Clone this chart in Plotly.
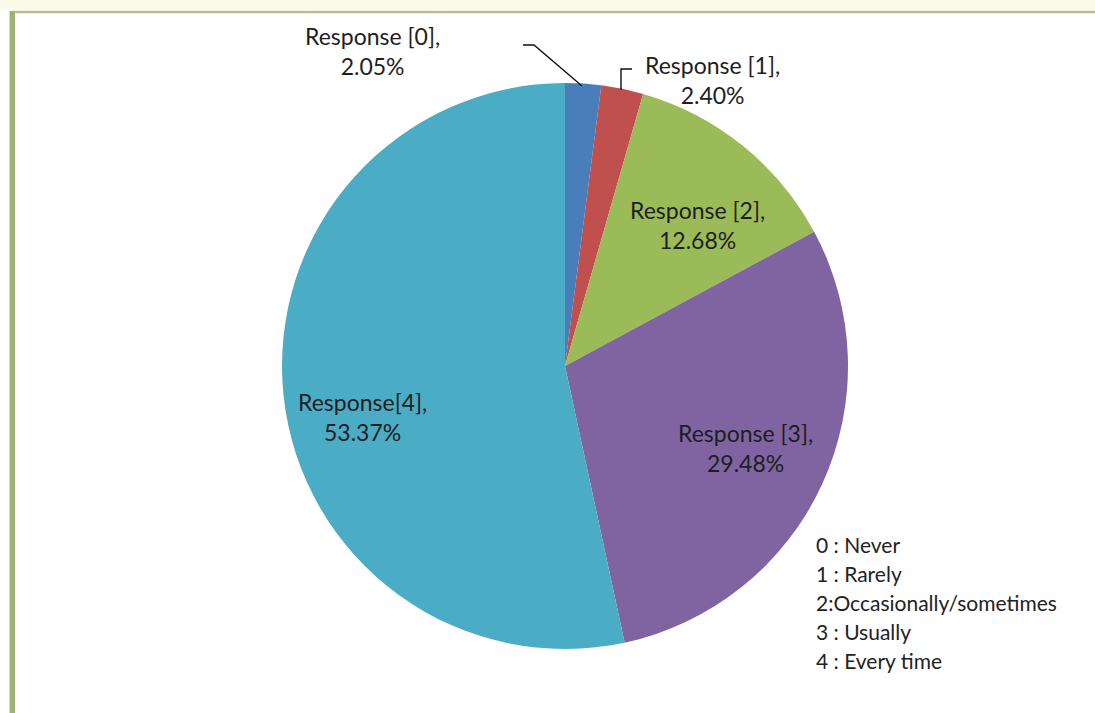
import plotly.graph_objects as go

categories = ["Response [0]", "Response [1]", "Response [2]", "Response [3]", "Response[4]"]
values = [2.05, 2.40, 12.68, 29.48, 53.37]
colors = ["#4a7ebb", "#c0504d", "#9bbb59", "#8064a2", "#4bacc6"]
legend_lines = ["0 : Never", "1 : Rarely", "2:Occasionally/sometimes", "3 : Usually", "4 : Every time"]

W, H = 1095, 713
cx, cy, r = 565, 366, 283

fig = go.Figure(go.Pie(
    labels=categories, values=values, sort=False, direction="clockwise", rotation=0,
    marker=dict(colors=colors, line=dict(width=0)),
    textinfo="none", hoverinfo="label+percent", showlegend=False,
    domain=dict(x=[(cx - r) / W, (cx + r) / W], y=[1 - (cy + r) / H, 1 - (cy - r) / H]),
))

def px(x): return x / W
def py(y): return 1 - y / H

FONT = "Lato, Carlito, Open Sans, sans-serif"
label_pos = [(372, 51), (712, 80), (697, 225), (745, 448), (362, 417)]
for cat, val, (x, y) in zip(categories, values, label_pos):
    fig.add_annotation(x=px(x), y=py(y), xref="paper", yref="paper",
                       text=f"{cat},<br>{val:.2f}%", showarrow=False,
                       font=dict(family=FONT, size=23, color="#1e1e1e"),
                       xanchor="center", yanchor="middle", align="center")

# leader lines
shapes = [
    dict(type="path", path=f"M {px(523)} {py(45)} L {px(534)} {py(45)} L {px(582)} {py(86)}"),
    dict(type="path", path=f"M {px(621)} {py(90)} L {px(621)} {py(69)} L {px(632)} {py(69)}"),
]
for s in shapes:
    s.update(xref="paper", yref="paper", line=dict(color="#111111", width=1.4))
    fig.add_shape(**s)

# frame
fig.add_shape(type="rect", xref="paper", yref="paper", x0=0, x1=1, y0=py(10), y1=1,
              fillcolor="#fbfbea", line=dict(width=0), layer="below")
fig.add_shape(type="line", xref="paper", yref="paper", x0=px(10), x1=1, y0=py(12), y1=py(12),
              line=dict(color="#b8bf90", width=2.5))
fig.add_shape(type="line", xref="paper", yref="paper", x0=px(12.3), x1=px(12.3), y0=0, y1=py(11),
              line=dict(color="#a2b173", width=5.5))

for i, t in enumerate(legend_lines):
    fig.add_annotation(x=px(814), y=py(544 + i * 29.2), xref="paper", yref="paper", text=t,
                       showarrow=False, xanchor="left", yanchor="middle",
                       font=dict(family=FONT, size=21, color="#222222"))

fig.update_layout(width=W, height=H, margin=dict(l=0, r=0, t=0, b=0),
                  paper_bgcolor="white", plot_bgcolor="white")
fig.write_html("out.html", config={"displayModeBar": False},
               post_script="document.body.style.margin='0';")
